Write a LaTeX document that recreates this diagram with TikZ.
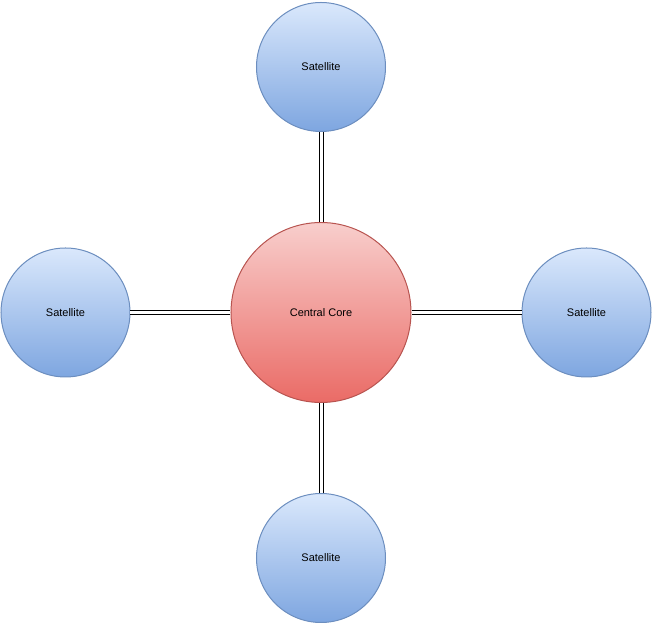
\documentclass[tikz,border=0pt]{standalone}
\usepackage{fontspec}
\setmainfont{Liberation Sans}
\usepackage{xcolor}
\usetikzlibrary{positioning}

\definecolor{satTop}{HTML}{DAE8FC}
\definecolor{satBottom}{HTML}{7EA6E0}
\definecolor{satLine}{HTML}{6C8EBF}
\definecolor{coreTop}{HTML}{F8CECC}
\definecolor{coreBottom}{HTML}{EA6B66}
\definecolor{coreLine}{HTML}{B85450}

\begin{document}
\begin{tikzpicture}[
    x=0.75pt, y=0.75pt,
    core/.style={circle, draw=coreLine, top color=coreTop, bottom color=coreBottom, minimum size=135pt, inner sep=0pt, line width=0.75pt, font=\fontsize{8.25}{10}\selectfont},
    sat/.style={circle, draw=satLine, top color=satTop, bottom color=satBottom, minimum size=96.75pt, inner sep=0pt, line width=0.75pt, font=\fontsize{8.25}{10}\selectfont},
    link/.style={double distance=2.25pt, line width=0.75pt}
]
    \useasboundingbox (-321,-310.5) rectangle (332,312.5);

    % Hub
    \node[core] (core) at (0,0) {Central Core};

    % Satellites round the hub
    \node[sat, above=67.5pt of core] (satN) {Satellite};
    \node[sat, below=67.5pt of core] (satS) {Satellite};
    \node[sat, left=75pt of core] (satW) {Satellite};
    \node[sat, right=82.5pt of core] (satE) {Satellite};

    % Links
    \draw[link] (core) -- (satN);
    \draw[link] (core) -- (satS);
    \draw[link] (core) -- (satW);
    \draw[link] (core) -- (satE);
\end{tikzpicture}
\end{document}
